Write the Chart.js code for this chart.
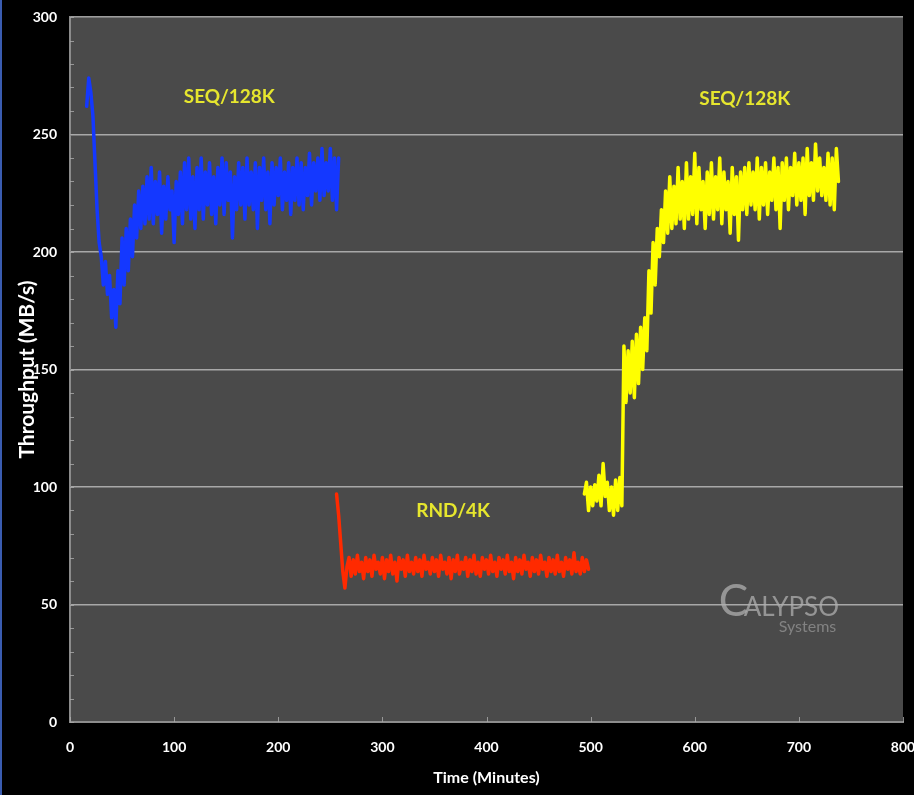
<!DOCTYPE html>
<html>
<head>
<meta charset="utf-8">
<title>Throughput over time</title>
<script src="https://cdn.jsdelivr.net/npm/chart.js@4.4.1/dist/chart.umd.min.js"></script>
<style>
  html, body { margin: 0; padding: 0; background: #000; }
  #wrap { width: 914px; height: 795px; position: relative; }
</style>
</head>
<body>
<div id="wrap"><canvas id="chart" width="914" height="795"></canvas></div>
<script>
// Sampling: one reading every 2 minutes, starting at the given minute.
const sampleStep = 2;

// Sequential 128K writes, fresh drive (MB/s)
const seqStartA = 16;
const seqValuesA = [
  262, 274, 268, 258, 238, 218, 204, 198, 186, 196, 182, 190, 172, 184, 168, 192,
  178, 206, 186, 210, 192, 214, 198, 220, 206, 226, 210, 228, 212, 232, 214, 236,
  212, 230, 216, 234, 208, 228, 214, 232, 218, 226, 204, 230, 216, 234, 212, 238,
  218, 240, 214, 232, 210, 236, 218, 240, 214, 234, 220, 238, 216, 232, 212, 236,
  220, 240, 216, 238, 222, 234, 206, 232, 218, 238, 220, 236, 214, 240, 220, 234,
  218, 238, 210, 236, 222, 240, 218, 234, 212, 238, 220, 236, 224, 240, 218, 234,
  222, 238, 216, 236, 222, 240, 220, 238, 218, 236, 224, 242, 220, 238, 226, 240,
  222, 244, 224, 238, 226, 244, 222, 240, 218, 240
];

// Random 4K writes (MB/s)
const rndStart = 256;
const rndValues = [
  97, 88, 76, 64, 57, 66, 70, 62, 69, 63, 71, 64, 68, 61, 70, 64,
  69, 62, 71, 65, 68, 63, 70, 61, 69, 64, 71, 63, 68, 60, 70, 65,
  69, 62, 71, 64, 68, 63, 70, 64, 69, 62, 71, 65, 68, 63, 70, 64,
  69, 62, 71, 65, 68, 63, 70, 61, 69, 64, 71, 63, 68, 65, 70, 62,
  69, 64, 71, 63, 68, 62, 70, 65, 69, 63, 71, 64, 68, 62, 70, 65,
  69, 63, 71, 64, 68, 61, 70, 64, 69, 63, 71, 65, 68, 62, 70, 64,
  69, 63, 71, 65, 68, 62, 70, 64, 69, 63, 71, 64, 68, 62, 70, 65,
  69, 63, 72, 64, 68, 63, 70, 64, 69, 65
];

// Sequential 128K writes after the random phase (MB/s)
const seqStartB = 494;
const seqValuesB = [
  97, 102, 90, 100, 92, 101, 94, 105, 92, 110, 96, 102, 90, 100, 88, 103,
  90, 104, 92, 160, 136, 158, 140, 162, 138, 165, 144, 168, 150, 172, 158, 192,
  174, 204, 186, 210, 198, 218, 204, 226, 208, 232, 210, 228, 212, 236, 214, 230,
  210, 238, 214, 232, 216, 242, 212, 236, 218, 230, 210, 234, 216, 238, 214, 232,
  218, 240, 212, 234, 218, 230, 208, 236, 216, 232, 205, 234, 218, 236, 216, 238,
  220, 234, 218, 240, 214, 236, 220, 238, 216, 234, 222, 240, 218, 236, 210, 238,
  222, 240, 218, 236, 224, 242, 220, 238, 222, 240, 216, 244, 224, 238, 222, 246,
  226, 240, 224, 236, 222, 242, 220, 240, 218, 244, 230
];

// Axis ranges and labels
const xTicks = [0, 100, 200, 300, 400, 500, 600, 700, 800];
const yTicks = [0, 50, 100, 150, 200, 250, 300];
const yMinorStep = 10;
const xTitle = 'Time (Minutes)';
const yTitle = 'Throughput (MB/s)';

// Phase labels placed in data units
const phaseLabels = [
  { text: 'SEQ/128K', x: 153, y: 266 },
  { text: 'SEQ/128K', x: 648, y: 265 },
  { text: 'RND/4K',   x: 368, y: 90 }
];

function toPoints(start, values) {
  return values.map((v, i) => ({ x: start + i * sampleStep, y: v }));
}

const FONT = "Lato, 'Open Sans', sans-serif";
const NARROW = "'Liberation Sans Narrow', " + FONT;

const backdrop = {
  id: 'backdrop',
  beforeDraw(chart) {
    const { ctx, chartArea: a, width, height } = chart;
    ctx.save();
    ctx.fillStyle = '#000';
    ctx.fillRect(0, 0, width, height);
    ctx.fillStyle = '#3a5cb0';
    ctx.fillRect(0, 0, 2, height);
    ctx.fillStyle = '#4a4a4a';
    ctx.fillRect(a.left, a.top, a.right - a.left, a.bottom - a.top);
    ctx.restore();
  },
  beforeDatasetsDraw(chart) {
    const { ctx, chartArea: a, scales: { x, y } } = chart;
    ctx.save();
    // minor ticks along the value axis, and small ticks along the time axis
    ctx.strokeStyle = 'rgba(170,170,170,0.8)';
    ctx.lineWidth = 1;
    ctx.beginPath();
    for (let v = y.min; v <= y.max; v += yMinorStep) {
      const py = Math.round(y.getPixelForValue(v)) + 0.5;
      ctx.moveTo(a.left, py);
      ctx.lineTo(a.left + 4, py);
    }
    for (const t of xTicks) {
      const px = Math.round(x.getPixelForValue(t)) + 0.5;
      ctx.moveTo(px, a.bottom);
      ctx.lineTo(px, a.bottom - 5);
    }
    ctx.stroke();

    // watermark
    const wx = x.getPixelForValue(623);
    const wy = y.getPixelForValue(45);
    ctx.fillStyle = 'rgba(175,175,175,0.75)';
    ctx.textBaseline = 'alphabetic';
    ctx.textAlign = 'left';
    ctx.font = '44px ' + NARROW;
    ctx.fillText('C', wx, wy);
    ctx.font = '26px ' + NARROW;
    ctx.fillText('ALYPSO', wx + 25, wy);
    ctx.fillStyle = 'rgba(150,150,150,0.75)';
    ctx.font = '16px ' + NARROW;
    ctx.fillText('Systems', wx + 60, wy + 16);
    ctx.restore();
  },
  afterDatasetsDraw(chart) {
    const { ctx, scales: { x, y } } = chart;
    ctx.save();
    ctx.fillStyle = '#e6e62e';
    ctx.font = 'bold 19px ' + FONT;
    ctx.textAlign = 'center';
    ctx.textBaseline = 'middle';
    for (const l of phaseLabels) {
      ctx.fillText(l.text, x.getPixelForValue(l.x), y.getPixelForValue(l.y));
    }
    ctx.restore();
  }
};

const lineStyle = { borderWidth: 3.5, borderJoinStyle: 'round', borderCapStyle: 'round', pointRadius: 0, tension: 0, fill: false };

new Chart(document.getElementById('chart'), {
  type: 'line',
  data: {
    datasets: [
      { label: 'SEQ/128K', data: toPoints(seqStartA, seqValuesA), borderColor: '#1438ff', ...lineStyle },
      { label: 'RND/4K', data: toPoints(rndStart, rndValues), borderColor: '#ff2a00', ...lineStyle },
      { label: 'SEQ/128K (after RND)', data: toPoints(seqStartB, seqValuesB), borderColor: '#ffff00', ...lineStyle }
    ]
  },
  options: {
    responsive: false,
    animation: false,
    devicePixelRatio: 1,
    layout: { padding: { left: 0, right: 11, top: 17, bottom: 0 } },
    plugins: { legend: { display: false }, tooltip: { enabled: false } },
    scales: {
      x: {
        type: 'linear',
        min: xTicks[0],
        max: xTicks[xTicks.length - 1],
        afterBuildTicks(scale) { scale.ticks = xTicks.map(v => ({ value: v })); },
        afterFit(scale) { scale.height = 73; scale.paddingLeft = 0; scale.paddingRight = 0; },
        grid: { display: false, drawTicks: false },
        border: { display: true, color: '#8c8c8c', width: 2 },
        ticks: { color: '#ffffff', padding: 17, maxRotation: 0, font: { family: FONT, size: 14, weight: 'bold' } },
        title: { display: true, text: xTitle, color: '#ffffff', padding: { top: 0, bottom: 8 }, font: { family: FONT, size: 16, weight: 'bold' } }
      },
      y: {
        type: 'linear',
        min: yTicks[0],
        max: yTicks[yTicks.length - 1],
        afterBuildTicks(scale) { scale.ticks = yTicks.map(v => ({ value: v })); },
        afterFit(scale) { scale.width = 70; scale.paddingTop = 0; scale.paddingBottom = 0; },
        grid: { color: 'rgba(185,185,185,0.85)', lineWidth: 1.5, drawTicks: false },
        border: { display: true, color: '#8c8c8c', width: 2 },
        ticks: { color: '#ffffff', padding: 13, font: { family: FONT, size: 14, weight: 'bold' } },
        title: { display: true, text: yTitle, color: '#ffffff', padding: { top: 15, bottom: 0 }, font: { family: FONT, size: 21, weight: 'bold' } }
      }
    }
  },
  plugins: [backdrop]
});
</script>
</body>
</html>
